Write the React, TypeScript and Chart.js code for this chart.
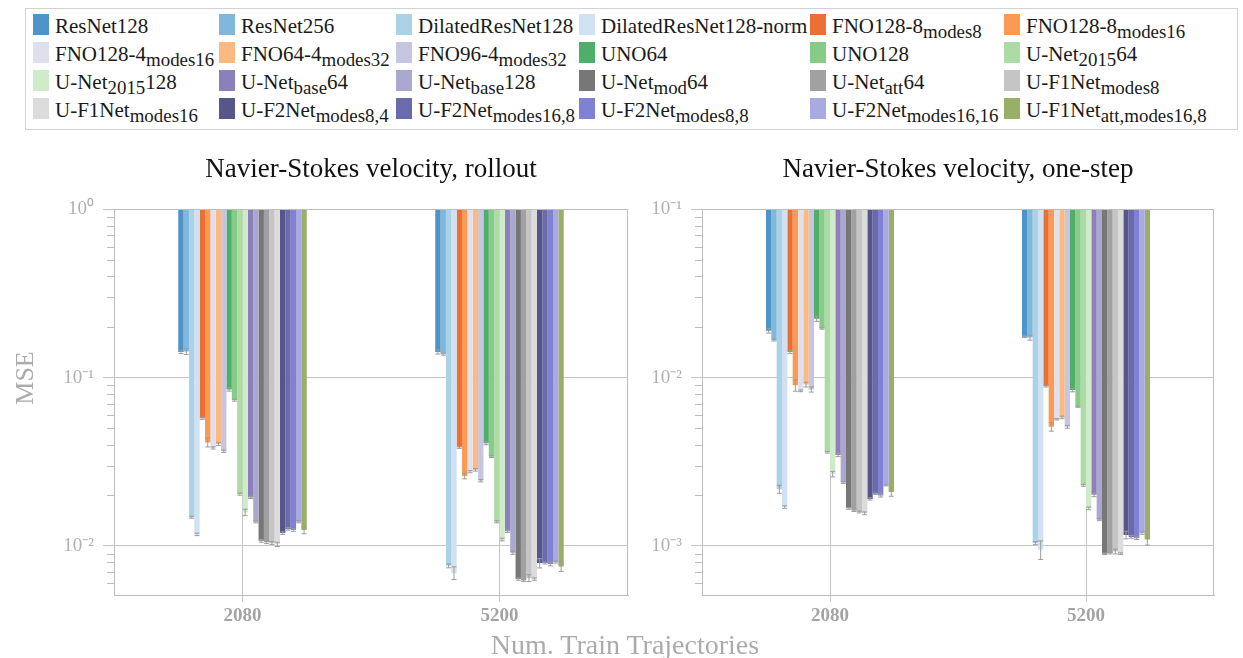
import React, { useEffect, useRef } from 'react';
import { Chart, registerables } from 'chart.js';
Chart.register(...registerables);

const FONT = '"Liberation Serif", "Times New Roman", serif';

const categories = ['2080', '5200'];

const modelLabels = [
  'ResNet128', 'ResNet256', 'DilatedResNet128', 'DilatedResNet128-norm', 'FNO128-8_{modes8}', 'FNO128-8_{modes16}',
  'FNO128-4_{modes16}', 'FNO64-4_{modes32}', 'FNO96-4_{modes32}', 'UNO64', 'UNO128', 'U-Net_{2015}64',
  'U-Net_{2015}128', 'U-Net_{base}64', 'U-Net_{base}128', 'U-Net_{mod}64', 'U-Net_{att}64', 'U-F1Net_{modes8}',
  'U-F1Net_{modes16}', 'U-F2Net_{modes8,4}', 'U-F2Net_{modes16,8}', 'U-F2Net_{modes8,8}', 'U-F2Net_{modes16,16}', 'U-F1Net_{att,modes16,8}',
];

const modelColors = [
  '#4f94c8', '#80b8dd', '#abd2e6', '#d0e1f2', '#ec6f33', '#fd9a51',
  '#dfdfee', '#fdb97f', '#c6c6e0', '#4fae6a', '#86cc88', '#addba6',
  '#d0ebca', '#8b80bb', '#aaa7d0', '#777777', '#a1a1a1', '#c5c5c5',
  '#dcdcdc', '#56568b', '#6a6aad', '#8081d4', '#a9aae1', '#9aaf66',
];

// Navier-Stokes velocity, rollout
const rollout2080 = [0.142, 0.143, 0.0148, 0.0117, 0.0573, 0.0412, 0.0382, 0.0403, 0.0365, 0.0851, 0.0735, 0.0203,
  0.0158, 0.0194, 0.0139, 0.0107, 0.0105, 0.0104, 0.0102, 0.0119, 0.0126, 0.0124, 0.0139, 0.0124];
const rollout5200 = [0.142, 0.138, 0.0076, 0.0069, 0.0385, 0.026, 0.0276, 0.0283, 0.0244, 0.0407, 0.0339, 0.0139,
  0.0109, 0.0122, 0.0091, 0.00634, 0.00622, 0.00643, 0.00634, 0.00789, 0.0079, 0.0078, 0.008, 0.00754];
const rolloutErr2080 = [0.003, 0.006, 0.0002, 0.0002, 0.0008, 0.0025, 0.0006, 0.0008, 0.0006, 0.002, 0.001, 0.0003,
  0.0007, 0.0003, 0.0002, 0.0002, 0.0002, 0.0002, 0.0003, 0.0002, 0.0002, 0.0002, 0.0002, 0.0006];
const rolloutErr5200 = [0.004, 0.002, 0.0002, 0.0006, 0.0005, 0.001, 0.0004, 0.0005, 0.0004, 0.0008, 0.0004, 0.0002,
  0.0002, 0.0002, 0.0002, 0.0001, 0.0001, 0.0003, 0.0001, 0.0005, 0.0001, 0.0002, 0.0001, 0.0005];

// Navier-Stokes velocity, one-step
const onestep2080 = [0.019, 0.0167, 0.00217, 0.0017, 0.0142, 0.009, 0.00835, 0.0091, 0.0085, 0.0224, 0.0196, 0.0036,
  0.00267, 0.00347, 0.00238, 0.00167, 0.00162, 0.00159, 0.00156, 0.0019, 0.00204, 0.00199, 0.00229, 0.00209];
const onestep5200 = [0.0175, 0.0173, 0.00104, 0.00095, 0.0089, 0.0051, 0.00565, 0.0058, 0.0051, 0.00843, 0.00671, 0.00229,
  0.00167, 0.00201, 0.00143, 0.000897, 0.000905, 0.000925, 0.000897, 0.00116, 0.00113, 0.00111, 0.00119, 0.00109];
const onestepErr2080 = [0.0006, 0.0002, 0.00012, 0.00003, 0.0003, 0.0007, 0.0001, 0.0003, 0.0003, 0.0008, 0.0002, 0.00004,
  0.0001, 0.00008, 0.00003, 0.00002, 0.00002, 0.00002, 0.00003, 0.00003, 0.00002, 0.00004, 0.00002, 0.00012];
const onestepErr5200 = [0.0002, 0.0006, 0.00002, 0.00012, 0.0001, 0.0003, 0.00005, 0.0001, 0.0001, 0.0002, 0.00005, 0.00003,
  0.00003, 0.00005, 0.00002, 0.00001, 0.00001, 0.00003, 0.00001, 0.00006, 0.00002, 0.00002, 0.00002, 0.00008];

const rolloutTicks = [0.01, 0.1, 1];
const onestepTicks = [0.001, 0.01, 0.1];

const SUP: Record<string, string> = { '-': '\u207B', '0': '\u2070', '1': '\u00B9', '2': '\u00B2', '3': '\u00B3', '4': '\u2074' };
const powLabel = (v: number) => '10' + String(Math.round(Math.log10(v))).split('').map((c) => SUP[c]).join('');
const plainLabel = (s: string) => s.replace(/_\{([^}]*)\}/g, '$1');

function renderLabel(s: string) {
  const parts: React.ReactNode[] = [];
  const re = /_\{([^}]*)\}/g;
  let last = 0;
  let m: RegExpExecArray | null;
  let k = 0;
  while ((m = re.exec(s))) {
    if (m.index > last) parts.push(<span key={k++}>{s.slice(last, m.index)}</span>);
    parts.push(
      <sub key={k++} style={{ fontSize: '0.9em', verticalAlign: '-0.28em', lineHeight: 0 }}>{m[1]}</sub>
    );
    last = m.index + m[0].length;
  }
  if (last < s.length) parts.push(<span key={k++}>{s.slice(last)}</span>);
  return parts;
}

type PanelProps = {
  title: string;
  vals: number[][];
  errs: number[][];
  yMin: number;
  yMax: number;
  ticks: number[];
  left: number;
  width: number;
  yAxisWidth: number;
  padRight: number;
};

function Panel(p: PanelProps) {
  const ref = useRef<HTMLCanvasElement | null>(null);
  useEffect(() => {
    if (!ref.current) return;
    const grey = '#bdbdbd';
    const series = modelLabels.map((_, i) => p.vals.map((arr) => arr[i]));
    const seriesErr = modelLabels.map((_, i) => p.errs.map((arr) => arr[i]));

    const decor = {
      id: 'decor',
      afterDatasetsDraw(chart: any) {
        const ctx = chart.ctx;
        const ys = chart.scales.y;
        ctx.save();
        ctx.strokeStyle = '#9c9c9c';
        ctx.lineWidth = 1;
        chart.data.datasets.forEach((ds: any, i: number) => {
          const meta = chart.getDatasetMeta(i);
          meta.data.forEach((bar: any, j: number) => {
            const v = ds.data[j];
            const e = seriesErr[i][j];
            const yt = ys.getPixelForValue(v + e);
            const yb = ys.getPixelForValue(Math.max(v - e, ys.min));
            const x = bar.x;
            const hw = 2.5;
            ctx.beginPath();
            ctx.moveTo(x, yt);
            ctx.lineTo(x, yb);
            ctx.moveTo(x - hw, yt);
            ctx.lineTo(x + hw, yt);
            ctx.moveTo(x - hw, yb);
            ctx.lineTo(x + hw, yb);
            ctx.stroke();
          });
        });
        const a = chart.chartArea;
        ctx.strokeStyle = grey;
        ctx.strokeRect(Math.round(a.left) + 0.5, Math.round(a.top) + 0.5, Math.round(a.right - a.left) - 1, Math.round(a.bottom - a.top));
        // minor ticks on the log axis
        const lo = Math.floor(Math.log10(ys.min));
        const hi = Math.ceil(Math.log10(ys.max));
        ctx.beginPath();
        for (let k = lo; k < hi; k++) {
          for (let m = 2; m <= 9; m++) {
            const v = m * Math.pow(10, k);
            if (v <= ys.min || v >= ys.max) continue;
            const py = Math.round(ys.getPixelForValue(v)) + 0.5;
            ctx.moveTo(a.left - 7, py);
            ctx.lineTo(a.left, py);
          }
        }
        ctx.stroke();
        ctx.restore();
      },
    };

    const chart = new Chart(ref.current, {
      type: 'bar',
      data: {
        labels: categories,
        datasets: modelLabels.map((lab, i) => ({
          label: plainLabel(lab),
          data: series[i],
          backgroundColor: modelColors[i],
          borderWidth: 0,
          base: p.yMax,
          categoryPercentage: 0.5,
          barPercentage: 1.0,
        })),
      },
      options: {
        animation: false,
        responsive: false,
        events: [],
        layout: { padding: { left: 0, right: p.padRight, top: 0, bottom: 0 } },
        plugins: {
          legend: { display: false },
          tooltip: { enabled: false },
          title: {
            display: true,
            text: p.title,
            fullSize: false,
            color: '#111111',
            font: { family: FONT, size: 27, weight: 'normal' },
            padding: { top: 4, bottom: 23 },
          },
        },
        scales: {
          x: {
            type: 'category',
            offset: true,
            grid: { offset: false, color: '#c4c4c4', tickLength: 7, drawOnChartArea: true },
            border: { color: grey },
            ticks: { color: '#a3a3a3', font: { family: FONT, size: 19, weight: 'bold' }, padding: 3 },
            afterFit: (s: any) => { s.height = 35; },
          },
          y: {
            type: 'logarithmic',
            position: 'left',
            min: p.yMin,
            max: p.yMax,
            afterBuildTicks: (s: any) => { s.ticks = p.ticks.map((v) => ({ value: v })); },
            grid: { color: '#c4c4c4', tickLength: 11, drawOnChartArea: true },
            border: { color: grey },
            ticks: {
              color: '#b0b0b0',
              font: { family: FONT, size: 19 },
              padding: 9,
              autoSkip: false,
              callback: (v: any) => powLabel(Number(v)),
            },
            afterFit: (s: any) => { s.width = p.yAxisWidth; },
          },
        },
      } as any,
      plugins: [decor],
    });
    return () => chart.destroy();
  }, []);
  return (
    <canvas
      ref={ref}
      width={p.width}
      height={480}
      style={{ position: 'absolute', left: p.left, top: 150, width: p.width, height: 480 }}
    />
  );
}

const legendColX = [7, 193, 370, 553, 784, 978];

export default function App() {
  return (
    <div style={{ position: 'fixed', left: 0, top: 0, width: 1243, height: 658, background: '#fff', overflow: 'hidden' }}>
      <div
        style={{
          position: 'absolute', left: 25, top: 8, width: 1213, height: 122, boxSizing: 'border-box',
          border: '1px solid #d2d2d2', fontFamily: FONT, fontSize: 21, color: '#1a1a1a',
        }}
      >
        {modelLabels.map((lab, i) => (
          <div
            key={i}
            style={{
              position: 'absolute', left: legendColX[i % 6], top: 5 + Math.floor(i / 6) * 28, height: 21,
              display: 'flex', alignItems: 'center', whiteSpace: 'nowrap',
            }}
          >
            <span style={{ display: 'inline-block', width: 16, height: 21, background: modelColors[i] }} />
            <span style={{ marginLeft: 6, position: 'relative', top: 1.5, lineHeight: '21px' }}>{renderLabel(lab)}</span>
          </div>
        ))}
      </div>
      <Panel
        title="Navier-Stokes velocity, rollout"
        vals={[rollout2080, rollout5200]}
        errs={[rolloutErr2080, rolloutErr5200]}
        yMin={0.0051}
        yMax={1}
        ticks={rolloutTicks}
        left={0}
        width={640}
        yAxisWidth={114}
        padRight={12}
      />
      <Panel
        title="Navier-Stokes velocity, one-step"
        vals={[onestep2080, onestep5200]}
        errs={[onestepErr2080, onestepErr5200]}
        yMin={0.00051}
        yMax={0.1}
        ticks={onestepTicks}
        left={640}
        width={603}
        yAxisWidth={62}
        padRight={29}
      />
      <div
        style={{
          position: 'absolute', left: 25 - 60, top: 378 - 15, width: 120, height: 30, lineHeight: '30px',
          textAlign: 'center', transform: 'rotate(-90deg)', fontFamily: FONT, fontSize: 26, color: '#ababab',
        }}
      >
        MSE
      </div>
      <div
        style={{
          position: 'absolute', left: 425, top: 630, width: 400, textAlign: 'center',
          fontFamily: FONT, fontSize: 28, lineHeight: '30px', color: '#ababab',
        }}
      >
        Num. Train Trajectories
      </div>
    </div>
  );
}
